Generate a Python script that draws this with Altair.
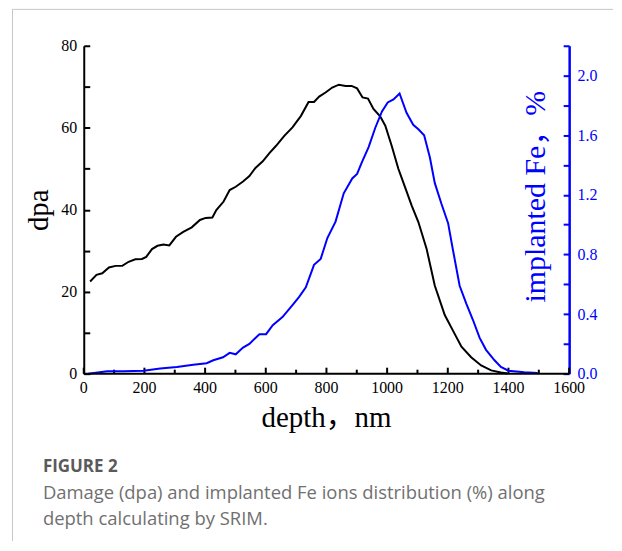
import altair as alt
import pandas as pd

# ---------------- data ----------------
dpa_depth = [21, 42, 61, 83, 105, 127, 148, 170, 192, 206, 225, 243, 263, 282, 304,
             328, 356, 383, 402, 424, 437, 461, 481, 501, 525, 546, 566, 590, 612, 634,
             661, 688, 716, 741, 759, 776, 797, 819, 841, 863, 883, 901, 919, 937, 955,
             977, 994, 1015, 1037, 1059, 1081, 1103, 1130, 1157, 1190, 1217, 1245, 1277,
             1310, 1343, 1375, 1397]
dpa_values = [22.5, 24.1, 24.5, 25.9, 26.3, 26.3, 27.3, 27.9, 28.0, 28.5, 30.4, 31.2, 31.5,
              31.3, 33.4, 34.6, 35.7, 37.5, 38.0, 38.1, 39.9, 42.0, 44.8, 45.6, 46.9, 48.2,
              50.2, 51.8, 53.8, 55.6, 58.0, 60.1, 62.9, 66.3, 66.3, 67.6, 68.6, 69.8, 70.5,
              70.2, 70.2, 69.6, 67.4, 67.1, 64.6, 62.8, 60.5, 55.6, 50.0, 45.5, 41.0, 37.0,
              30.5, 21.5, 14.3, 10.5, 6.6, 4.0, 2.0, 0.8, 0.3, 0.05]

fe_depth = [15, 77, 132, 197, 252, 307, 361, 405, 427, 459, 481, 501, 525, 546, 579, 601,
            623, 655, 688, 710, 732, 759, 781, 803, 830, 857, 885, 901, 917, 939, 961, 983,
            1002, 1021, 1041, 1064, 1086, 1103, 1122, 1141, 1157, 1179, 1201, 1217, 1239,
            1261, 1283, 1305, 1326, 1354, 1375, 1400, 1452, 1496]
fe_values = [0.0, 0.017, 0.017, 0.02, 0.035, 0.045, 0.06, 0.07, 0.09, 0.11, 0.14, 0.13, 0.175,
             0.2, 0.265, 0.265, 0.325, 0.38, 0.46, 0.515, 0.58, 0.73, 0.77, 0.91, 1.02, 1.21,
             1.31, 1.34, 1.42, 1.52, 1.65, 1.76, 1.82, 1.84, 1.88, 1.75, 1.67, 1.64, 1.60,
             1.45, 1.28, 1.14, 1.01, 0.83, 0.59, 0.47, 0.36, 0.24, 0.16, 0.09, 0.045, 0.02,
             0.01, 0.005]

# tick positions
x_major = [0, 200, 400, 600, 800, 1000, 1200, 1400, 1600]
x_minor = [100, 300, 500, 700, 900, 1100, 1300, 1500]
x_labels = ["0", "200", "400", "600", "800", "1000", "1200", "1400", "1600"]
dpa_ticks = [0, 10, 20, 30, 40, 50, 60, 70, 80]
fe_ticks = [0.0, 0.2, 0.4, 0.6, 0.8, 1.0, 1.2, 1.4, 1.6, 1.8, 2.0, 2.2]

x_title = ["depth，nm"]
dpa_title = "dpa"
fe_title = "implanted Fe，%"
caption_head = ["FIGURE 2"]
caption_line1 = ["Damage (dpa) and implanted Fe ions distribution (%) along"]
caption_line2 = ["depth calculating by SRIM."]

# ---------------- styling ----------------
W, H = 487, 329
SERIF = "Liberation Serif, Noto Sans CJK SC, serif"
BLUE = "#0000ff"
GRAY = "#707070"
TICK = alt.ExprRef(expr="-6")   # inward ticks

df_dpa = pd.DataFrame({"depth": dpa_depth, "dpa": dpa_values})
df_fe = pd.DataFrame({"depth": fe_depth, "fe": fe_values})

xs = alt.Scale(domain=[0, 1600], nice=False, zero=False)
ys1 = alt.Scale(domain=[0, 80], nice=False)
ys2 = alt.Scale(domain=[0, 2.2], nice=False)

dpa_axis = alt.Axis(
    orient="left", values=dpa_ticks, format="d",
    labelExpr="datum.value % 20 == 0 ? datum.label : ''",
    ticks=True, tickSize=TICK, tickWidth=2, tickColor="black", labelPadding=13,
    labelFont=SERIF, labelFontSize=16, labelColor="black", labelOverlap=False,
    domainColor="black", domainWidth=2, grid=False,
    title=dpa_title, titleFont=SERIF, titleFontSize=29, titleFontWeight="normal",
    titleColor="black", titleAngle=270, titleBaseline="alphabetic", titleAlign="center",
    titleX=-36, titleY=H / 2)

fe_axis = alt.Axis(
    orient="right", values=fe_ticks, format=".1f",
    labelExpr="round(datum.value * 10) % 4 == 0 ? datum.label : ''",
    ticks=True, tickSize=TICK, tickWidth=2, tickColor=BLUE, labelPadding=14,
    labelFont=SERIF, labelFontSize=16, labelColor=BLUE, labelOverlap=False,
    domainColor=BLUE, domainWidth=2.5, grid=False,
    title=fe_title, titleFont=SERIF, titleFontSize=30, titleFontWeight="normal",
    titleColor=BLUE, titleAngle=270, titleBaseline="alphabetic", titleAlign="center",
    titleX=-25, titleY=151)


def x_tick_layer(values, length):
    return alt.Chart(pd.DataFrame({"v": values})).mark_rule(
        color="black", strokeWidth=2).encode(
        x=alt.X("v:Q", scale=xs, axis=None),
        y=alt.value(H), y2=alt.value(H - length))


dpa_line = alt.Chart(df_dpa).mark_line(color="black", strokeWidth=2).encode(
    x=alt.X("depth:Q", scale=xs, axis=None),
    y=alt.Y("dpa:Q", scale=ys1, axis=dpa_axis))

fe_line = alt.Chart(df_fe).mark_line(color=BLUE, strokeWidth=2).encode(
    x=alt.X("depth:Q", scale=xs, axis=None),
    y=alt.Y("fe:Q", scale=ys2, axis=fe_axis))

# ---- bottom depth axis, drawn through the x scale ----
x_domain = alt.Chart(pd.DataFrame({"a": [0], "b": [1600]})).mark_rule(
    color="black", strokeWidth=2).encode(
    x=alt.X("a:Q", scale=xs, axis=None), x2="b:Q", y=alt.value(H))

x_label_layer = alt.Chart(pd.DataFrame({"v": x_major, "label": x_labels})).mark_text(
    align="center", baseline="top", font=SERIF, fontSize=16, color="black").encode(
    x=alt.X("v:Q", scale=xs, axis=None), y=alt.value(H + 6), text="label:N")

x_title_layer = alt.Chart(pd.DataFrame({"t": x_title})).mark_text(
    align="center", baseline="alphabetic", font=SERIF, fontSize=29, color="black").encode(
    x=alt.value(W / 2), y=alt.value(H + 54), text="t:N")

# page frame (light grey border of the figure panel)
one = pd.DataFrame({"k": [0]})
frame_v = alt.Chart(one).mark_rule(color="#c8c8c8", strokeWidth=1).encode(
    x=alt.value(-71.5), y=alt.value(-36.5), y2=alt.value(H + 168))
frame_h = alt.Chart(one).mark_rule(color="#c8c8c8", strokeWidth=1).encode(
    x=alt.value(-72), x2=alt.value(W + 44), y=alt.value(-36.5))

cap1 = alt.Chart(pd.DataFrame({"t": caption_head})).mark_text(
    align="left", baseline="alphabetic", font="Open Sans", fontSize=17, fontWeight="bold",
    color="#5a5a5a").encode(text="t:N", x=alt.value(-41), y=alt.value(428))
cap2 = alt.Chart(pd.DataFrame({"t": caption_line1})).mark_text(
    align="left", baseline="alphabetic", font="Open Sans", fontSize=18.5, color=GRAY
).encode(text="t:N", x=alt.value(-41), y=alt.value(455))
cap3 = alt.Chart(pd.DataFrame({"t": caption_line2})).mark_text(
    align="left", baseline="alphabetic", font="Open Sans", fontSize=18.5, color=GRAY
).encode(text="t:N", x=alt.value(-41), y=alt.value(481))

chart = alt.layer(
    x_tick_layer(x_major, 6), x_tick_layer(x_minor, 4),
    dpa_line, fe_line,
    x_domain, x_label_layer, x_title_layer,
    frame_v, frame_h, cap1, cap2, cap3,
).resolve_scale(y="independent").properties(
    width=W, height=H,
    padding={"left": 3, "top": 0, "right": 0, "bottom": 0},
).configure_view(stroke=None)

chart.save("out.html", embed_options={"renderer": "svg", "actions": False})
